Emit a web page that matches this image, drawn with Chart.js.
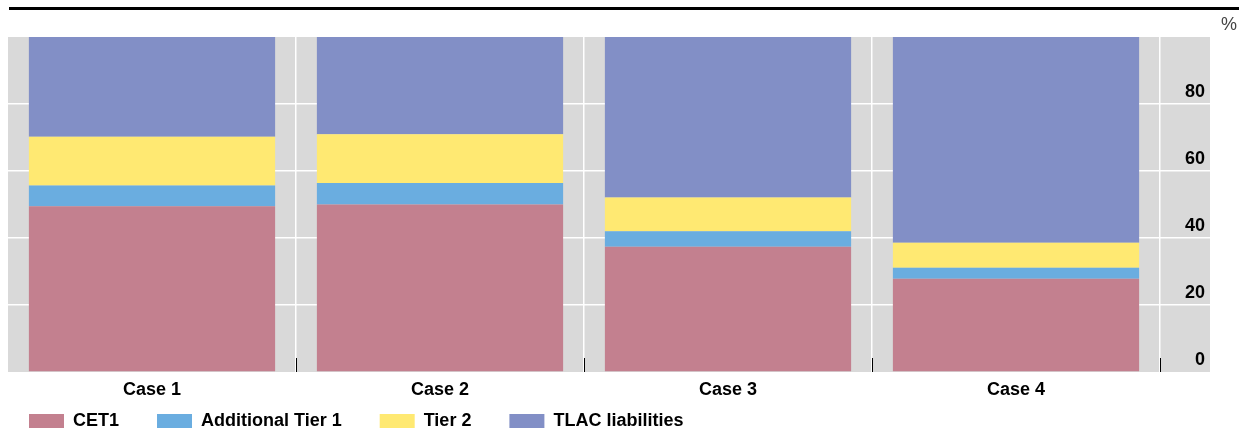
<!DOCTYPE html>
<html>
<head>
<meta charset="utf-8">
<script src="https://cdn.jsdelivr.net/npm/chart.js@4/dist/chart.umd.min.js"></script>
<style>
  body { margin: 0; background: #ffffff; }
  #wrap { width: 1239px; height: 430px; }
</style>
</head>
<body>
<div id="wrap"><canvas id="chart" width="1239" height="430"></canvas></div>
<script>
// Capital structure by case, % of total (stacked to 100)
const categories = ['Case 1', 'Case 2', 'Case 3', 'Case 4'];
const cet1 = [49.5, 50.0, 37.4, 27.8];
const additionalTier1 = [6.2, 6.4, 4.6, 3.3];
const tier2 = [14.5, 14.6, 10.1, 7.5];
const tlacLiabilities = [29.8, 29.0, 47.9, 61.4];
const yTicks = [0, 20, 40, 60, 80];

Chart.defaults.font.family = "'Liberation Sans', Arial, Helvetica, sans-serif";
Chart.defaults.color = '#000000';

const GRAY = '#d9d9d9';

// gray panel, top rule, "%" label and the small black ticks between cases
const decorPlugin = {
    id: 'decor',
    afterLayout(chart) {
        // legend sits under the axis labels, first box aligned with the first bar
        const lg = chart.legend;
        const pad = lg.options.labels.padding;
        lg.top = 412 - pad;
        lg.left = 29 - pad;
    },
    beforeDraw(chart) {
        const { ctx, chartArea } = chart;
        const yScale = chart.scales.y;
        ctx.save();
        ctx.fillStyle = GRAY;
        // panel runs a little past the value labels
        ctx.fillRect(chartArea.left, chartArea.top, yScale.right + 5 - chartArea.left, chartArea.bottom - chartArea.top);
        ctx.fillStyle = '#000000';
        ctx.fillRect(9, 7, chart.width - 9, 3);
        ctx.fillStyle = '#444444';
        ctx.font = "18px 'Liberation Sans', Arial, sans-serif";
        ctx.textAlign = 'right';
        ctx.textBaseline = 'middle';
        ctx.fillText('%', chart.width - 2, 25);
        ctx.restore();
    },
    afterDatasetsDraw(chart) {
        const { ctx, chartArea } = chart;
        const x = chart.scales.x;
        const half = (x.getPixelForValue(1) - x.getPixelForValue(0)) / 2;
        ctx.save();
        ctx.strokeStyle = '#000000';
        ctx.lineWidth = 1;
        categories.forEach((c, i) => {
            const px = Math.round(x.getPixelForValue(i) + half) + 0.5;
            ctx.beginPath();
            ctx.moveTo(px, chartArea.bottom - 14);
            ctx.lineTo(px, chartArea.bottom);
            ctx.stroke();
        });
        ctx.restore();
    }
};

new Chart(document.getElementById('chart'), {
    type: 'bar',
    data: {
        labels: categories,
        datasets: [
            { label: 'CET1', data: cet1, backgroundColor: '#c3808f' },
            { label: 'Additional Tier 1', data: additionalTier1, backgroundColor: '#6aade0' },
            { label: 'Tier 2', data: tier2, backgroundColor: '#ffe972' },
            { label: 'TLAC liabilities', data: tlacLiabilities, backgroundColor: '#828fc6' }
        ]
    },
    options: {
        responsive: false,
        animation: false,
        layout: { padding: { top: 37, left: 8, right: 34, bottom: 0 } },
        datasets: {
            bar: { categoryPercentage: 1, barPercentage: 0.855, borderWidth: 0 }
        },
        scales: {
            x: {
                stacked: true,
                border: { display: false },
                afterFit(scale) { scale.height = 28; },
                grid: {
                    offset: true,
                    drawTicks: false,
                    color: c => c.index === 0 ? 'rgba(0,0,0,0)' : '#ffffff',
                    lineWidth: 1.5
                },
                ticks: { padding: 7, font: { size: 18, weight: 'bold' } }
            },
            y: {
                stacked: true,
                position: 'right',
                min: 0,
                max: 100,
                border: { display: false },
                afterFit(scale) { scale.width = 45; },
                afterBuildTicks(scale) {
                    scale.ticks = yTicks.concat([100]).map(v => ({ value: v }));
                },
                grid: {
                    color: c => (c.tick && (c.tick.value === 0 || c.tick.value === 100)) ? 'rgba(0,0,0,0)' : '#ffffff',
                    lineWidth: 1.5,
                    drawTicks: true,
                    tickLength: 50
                },
                ticks: {
                    crossAlign: 'far',
                    padding: 0,
                    labelOffset: -12,
                    font: { size: 18, weight: 'bold' },
                    callback: v => yTicks.includes(v) ? String(v) : ''
                }
            }
        },
        plugins: {
            legend: {
                position: 'bottom',
                align: 'start',
                maxHeight: 30,
                labels: {
                    boxWidth: 35,
                    boxHeight: 14,
                    padding: 38,
                    color: '#000000',
                    font: { size: 18, weight: 'bold' }
                }
            },
            title: { display: false },
            tooltip: { enabled: false }
        }
    },
    plugins: [decorPlugin]
});
</script>
</body>
</html>
